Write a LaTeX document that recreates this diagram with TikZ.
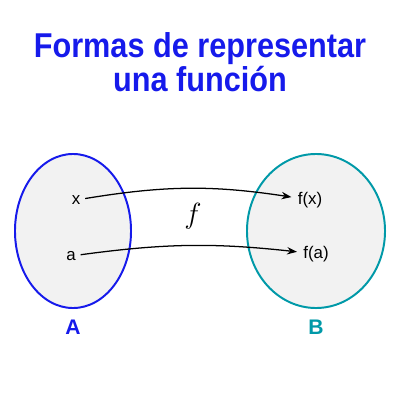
\documentclass[tikz,border=0pt]{standalone}
\usepackage{fontspec}
\setmainfont{Liberation Sans}
\newfontfamily\titlefont[FakeStretch=0.89]{Liberation Sans}
\usetikzlibrary{positioning, arrows.meta, shapes.geometric}
\definecolor{setblue}{RGB}{22,26,235}
\definecolor{setteal}{RGB}{0,153,168}
\definecolor{setfill}{RGB}{242,242,242}

\begin{document}
\begin{tikzpicture}[x=0.025cm, y=-0.025cm, >=Stealth,
       set/.style={ellipse, draw, line width=1.4pt, fill=setfill,
                   minimum height=3.85cm},
       elem/.style={font=\fontsize{12}{14}\selectfont},
       setname/.style={font=\fontsize{15}{18}\selectfont\bfseries},
       map/.style={->, line width=0.9pt, shorten >=1pt}]
     \useasboundingbox (0,0) rectangle (400,400);
     \node[font=\titlefont\fontsize{24.5}{21.5}\selectfont\bfseries, text=setblue, align=center]
        (title) at (200,62) {Formas de representar\\una función};
     \node[set, draw=setblue, minimum width=2.9cm] (setA) at (73,231) {};
     \node[set, draw=setteal, minimum width=3.45cm] (setB) at (316,231) {};
     \node[setname, text=setblue, below=1.5mm of setA] (nameA) {A};
     \node[setname, text=setteal, below=1.5mm of setB] (nameB) {B};
     \node[elem] (x) at (76,200) {x};
     \node[elem] (a) at (71,256) {a};
     \node[elem] (fx) at (310,200) {f(x)};
     \node[elem] (fa) at (316,254) {f(a)};
     \draw[map] (x) to[bend left=9] (fx);
     \draw[map] (a) to[bend left=7] (fa);
     \node[font=\fontsize{20}{24}\selectfont] (f) at (193,216) {$f$};
   \end{tikzpicture}
\end{document}
